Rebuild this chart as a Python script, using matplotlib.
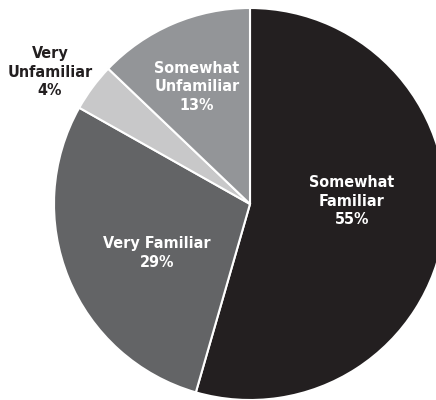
import matplotlib
matplotlib.use("Agg")
import matplotlib.pyplot as plt
from matplotlib import font_manager

categories = ["Somewhat\nFamiliar", "Very Familiar", "Very\nUnfamiliar", "Somewhat\nUnfamiliar"]
values = [55, 29, 4, 13]
colors = ["#231f20", "#636466", "#c8c8c9", "#939598"]
text_colors = ["white", "white", "#231f20", "white"]

has_cond = any(f.name == "DejaVu Sans" and f.stretch == "condensed" for f in font_manager.fontManager.ttflist)

W, H = 436, 400
cx, cy, R = 250, 204, 196
fig = plt.figure(figsize=(W / 100, H / 100), dpi=100)
ax = fig.add_axes([0, 0, 1, 1])

wedges, _ = ax.pie(values, colors=colors, startangle=90, counterclock=False,
                   radius=1.0, wedgeprops=dict(edgecolor="white", linewidth=1.5))
ax.set_aspect("auto")
ax.set_xlim(-cx / R, (W - cx) / R)
ax.set_ylim(-(H - cy) / R, cy / R)
ax.axis("off")

label_pos = [(0.52, 0.015), (-0.474, -0.25), (-1.02, 0.673), (-0.27, 0.597)]
for cat, v, (x, y), tc in zip(categories, values, label_pos, text_colors):
    ax.text(x, y, f"{cat}\n{v}%", ha="center", va="center", color=tc,
            fontsize=11.5, fontweight="bold", family="DejaVu Sans",
            fontstretch="condensed" if has_cond else "normal", linespacing=1.3)

fig.savefig("out.png", dpi=100)
